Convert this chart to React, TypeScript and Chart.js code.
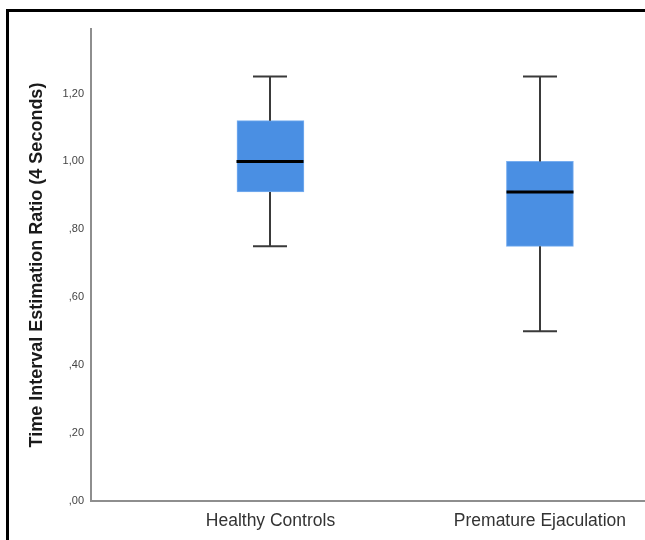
import React, { useEffect, useRef } from "react";
import { Chart, registerables } from "chart.js";

Chart.register(...registerables);

const categories = ["Healthy Controls", "Premature Ejaculation"];
const whiskerMin = [0.75, 0.5];
const q1 = [0.91, 0.75];
const median = [1.0, 0.91];
const q3 = [1.12, 1.0];
const whiskerMax = [1.25, 1.25];
const yTicks = [0, 0.2, 0.4, 0.6, 0.8, 1.0, 1.2];
const yTitle = "Time Interval Estimation Ratio (4 Seconds)";

const positions = categories.map((_, i) => i + 1);

const boxWhiskerPlugin = {
  id: "boxWhisker",
  afterDatasetsDraw(chart: any) {
    const { ctx, scales } = chart;
    const xs = scales.x;
    const ys = scales.y;
    ctx.save();
    positions.forEach((p, i) => {
      const cx = Math.round(xs.getPixelForValue(p));
      const capHalf = 17;
      const boxHalf = 33.5;
      ctx.strokeStyle = "#3a3a3a";
      ctx.lineWidth = 2;
      ctx.beginPath();
      ctx.moveTo(cx, ys.getPixelForValue(q3[i]));
      ctx.lineTo(cx, ys.getPixelForValue(whiskerMax[i]));
      ctx.moveTo(cx, ys.getPixelForValue(q1[i]));
      ctx.lineTo(cx, ys.getPixelForValue(whiskerMin[i]));
      ctx.stroke();
      ctx.beginPath();
      const yMax = ys.getPixelForValue(whiskerMax[i]);
      const yMin = ys.getPixelForValue(whiskerMin[i]);
      ctx.moveTo(cx - capHalf, yMax);
      ctx.lineTo(cx + capHalf, yMax);
      ctx.moveTo(cx - capHalf, yMin);
      ctx.lineTo(cx + capHalf, yMin);
      ctx.stroke();
      ctx.strokeStyle = "#000000";
      ctx.lineWidth = 3;
      ctx.beginPath();
      const yMed = ys.getPixelForValue(median[i]);
      ctx.moveTo(cx - boxHalf, yMed);
      ctx.lineTo(cx + boxHalf, yMed);
      ctx.stroke();
    });
    ctx.restore();
  },
};

export default function App() {
  const canvasRef = useRef<HTMLCanvasElement | null>(null);

  useEffect(() => {
    if (!canvasRef.current) return;
    const sans = "'Liberation Sans', Arial, sans-serif";
    const chart = new Chart(canvasRef.current, {
      type: "bar",
      data: {
        datasets: [
          {
            data: positions.map((p, i) => ({ x: p, y: [q1[i], q3[i]] })) as any,
            backgroundColor: "#4a8fe3",
            borderColor: "#78aef0",
            borderWidth: 1,
            borderSkipped: false,
            barThickness: 67,
          },
        ],
      },
      options: {
        responsive: false,
        animation: false,
        events: [],
        layout: { padding: { top: 29, left: 0, right: 0, bottom: 0 } },
        plugins: {
          legend: { display: false },
          tooltip: { enabled: false },
          title: { display: false },
        },
        scales: {
          x: {
            type: "linear",
            offset: false,
            bounds: "data",
            min: 0.334,
            max: 2.39,
            grid: { display: false, drawTicks: false, offset: false },
            border: { display: true, color: "#8e8e8e", width: 2 },
            afterBuildTicks: (scale: any) => {
              scale.ticks = positions.map((v) => ({ value: v }));
            },
            afterFit: (scale: any) => {
              scale.height = 39;
            },
            ticks: {
              autoSkip: false,
              maxRotation: 0,
              minRotation: 0,
              padding: 10,
              color: "#333333",
              font: { family: sans, size: 17.5 },
              callback: (v: any) => {
                const idx = positions.indexOf(Number(v));
                return idx >= 0 ? categories[idx] : "";
              },
            },
          },
          y: {
            type: "linear",
            min: 0,
            max: 1.39,
            grid: { display: false, drawTicks: false },
            border: { display: true, color: "#8e8e8e", width: 2 },
            afterBuildTicks: (scale: any) => {
              scale.ticks = yTicks.map((v) => ({ value: v }));
            },
            afterFit: (scale: any) => {
              scale.width = 91;
            },
            ticks: {
              padding: 7,
              color: "#444444",
              font: { family: sans, size: 11 },
              callback: (v: any) =>
                Number(v).toFixed(2).replace(".", ",").replace(/^0/, ""),
            },
            title: {
              display: true,
              text: yTitle,
              color: "#1a1a1a",
              padding: { top: 26, bottom: 0 },
              font: { family: sans, size: 18, weight: "bold" },
            },
          },
        },
      },
      plugins: [boxWhiskerPlugin],
    });
    return () => chart.destroy();
  }, []);

  return (
    <div
      style={{
        position: "fixed",
        left: 0,
        top: 0,
        width: 645,
        height: 540,
        background: "#ffffff",
        overflow: "hidden",
      }}
    >
      <canvas
        ref={canvasRef}
        width={645}
        height={540}
        style={{ position: "absolute", left: 0, top: 0 }}
      />
      <div
        style={{
          position: "absolute",
          left: 6,
          top: 9,
          width: 700,
          height: 600,
          borderLeft: "3px solid #000",
          borderTop: "3px solid #000",
          pointerEvents: "none",
        }}
      />
    </div>
  );
}
